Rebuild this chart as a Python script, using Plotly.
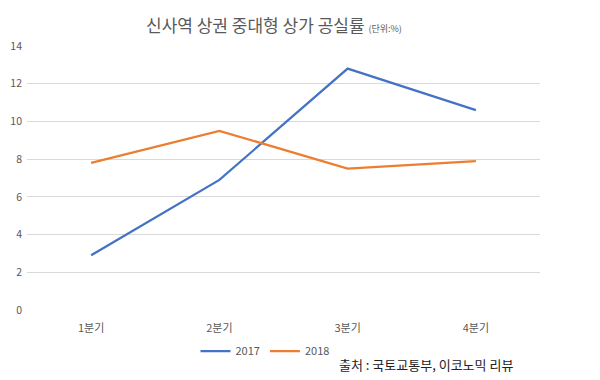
import plotly.graph_objects as go

quarters = ["1분기", "2분기", "3분기", "4분기"]
vals_2017 = [2.9, 6.9, 12.8, 10.6]
vals_2018 = [7.8, 9.5, 7.5, 7.9]
y_ticks = [0, 2, 4, 6, 8, 10, 12, 14]

FONT = "Noto Sans CJK KR"
GRAY = "#595959"

fig = go.Figure()
fig.add_trace(go.Scatter(x=quarters, y=vals_2017, name="2017", mode="lines",
                         line=dict(color="#4472C4", width=2.25)))
fig.add_trace(go.Scatter(x=quarters, y=vals_2018, name="2018", mode="lines",
                         line=dict(color="#ED7D31", width=2.25)))
# invisible trace on the label axis
fig.add_trace(go.Scatter(x=quarters, y=vals_2017, xaxis="x2", mode="lines",
                         line=dict(width=0), opacity=0, showlegend=False,
                         hoverinfo="skip"))

OFF = 8  # page body margin
W, H = 600 - OFF, 380 - OFF
L, R, T, B = 27 - OFF, 60, 46 - OFF, 70
pw = W - L - R
ph = H - T - B
bottom_px = 310  # window px of plot bottom


def px_x(x):
    return (x - 27) / pw


def px_y(y):
    return (bottom_px - y) / ph


fig.update_layout(
    width=W, height=H,
    margin=dict(l=L, r=R, t=T, b=B, autoexpand=False),
    paper_bgcolor="white", plot_bgcolor="white",
    font=dict(family=FONT, color=GRAY, size=11),
    showlegend=True,
    legend=dict(orientation="h", x=px_x(265), xanchor="center",
                y=px_y(351), yanchor="middle",
                font=dict(size=11, color=GRAY), itemwidth=30, tracegroupgap=0,
                bgcolor="rgba(0,0,0,0)"),
    xaxis=dict(type="category", range=[-0.5, 3.5], showticklabels=False,
               showgrid=False, zeroline=False, showline=False, ticks="",
               automargin=False),
    xaxis2=dict(type="category", range=[-0.5, 3.5], overlaying="x", anchor="y",
                side="bottom", domain=[px_x(29.5), px_x(513.5)],
                showgrid=False, zeroline=False, showline=False, ticks="",
                tickfont=dict(size=11, color=GRAY), ticklabelstandoff=10,
                automargin=False),
    yaxis=dict(range=[0, 14], tickvals=y_ticks, showgrid=True, gridcolor="#D9D9D9",
               gridwidth=1, zeroline=False, showline=False, ticks="",
               tickfont=dict(size=10.5, color=GRAY), ticklabelstandoff=4,
               automargin=False),
    annotations=[
        dict(text="신사역 상권 중대형 상가 공실률 <span style='font-size:9px'>(단위:%)</span>",
             xref="paper", yref="paper", x=px_x(274), y=px_y(25),
             xanchor="center", yanchor="middle", showarrow=False,
             font=dict(size=17, color=GRAY, family=FONT)),
        dict(text="출처 : 국토교통부, 이코노믹 리뷰",
             xref="paper", yref="paper", x=px_x(515), y=px_y(364),
             xanchor="right", yanchor="middle", showarrow=False,
             font=dict(size=13, color="#222222", family=FONT)),
    ],
)

fig.write_html("out.html")
